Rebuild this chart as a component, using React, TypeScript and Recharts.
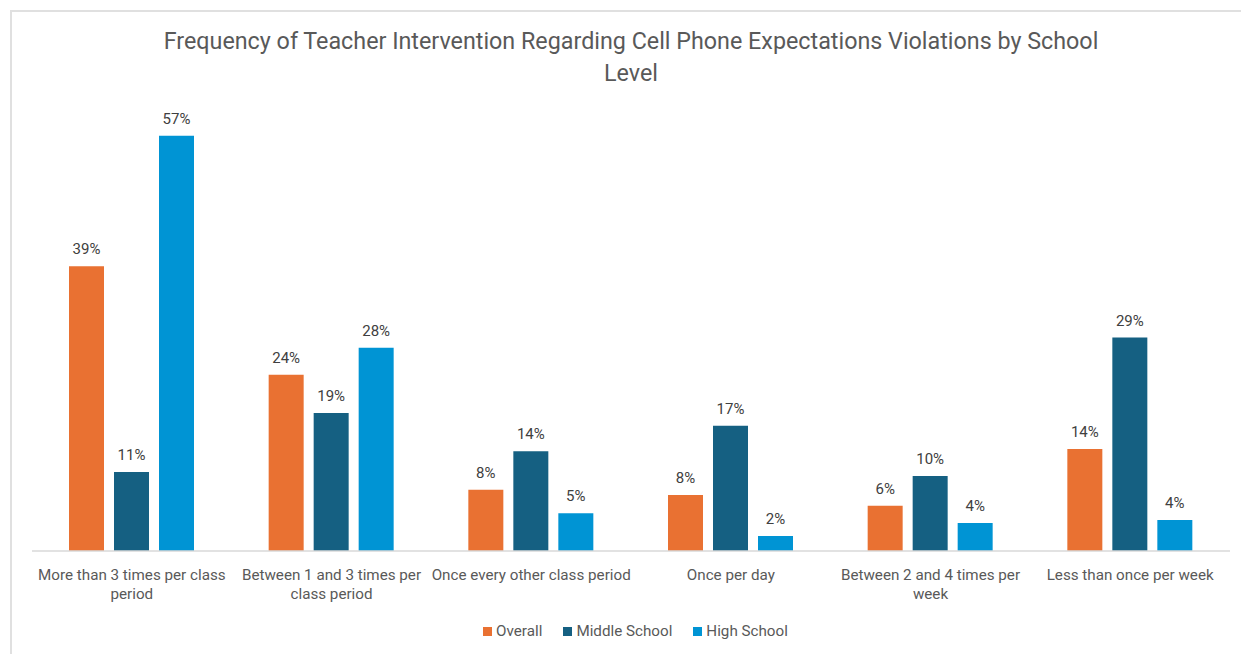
import React from "react";
import { BarChart, Bar, XAxis, YAxis, Legend, LabelList } from "recharts";

const categories = [
  "More than 3 times per class period",
  "Between 1 and 3 times per class period",
  "Once every other class period",
  "Once per day",
  "Between 2 and 4 times per week",
  "Less than once per week",
];
const overall = [39.1, 24.2, 8.4, 7.7, 6.2, 14.0];
const middleSchool = [10.85, 18.96, 13.7, 17.2, 10.3, 29.3];
const highSchool = [57.0, 27.9, 5.2, 2.06, 3.85, 4.26];
const seriesNames = ["Overall", "Middle School", "High School"];
const colors = ["#E97132", "#156082", "#0094D4"];
const titleLines = [
  "Frequency of Teacher Intervention Regarding Cell Phone Expectations Violations by School",
  "Level",
];

const data = categories.map((c, i) => ({
  category: c,
  overall: overall[i],
  middle: middleSchool[i],
  high: highSchool[i],
}));

const FONT = "Roboto, 'Liberation Sans', sans-serif";

function wrapWords(label: string, maxChars: number): string[] {
  const words = label.split(" ");
  const lines: string[] = [];
  let cur = "";
  for (const w of words) {
    const next = cur ? cur + " " + w : w;
    if (next.length > maxChars && cur) {
      lines.push(cur);
      cur = w;
    } else {
      cur = next;
    }
  }
  if (cur) lines.push(cur);
  return lines;
}

const CategoryTick = (props: any) => {
  const { x, y, payload } = props;
  const lines = wrapWords(String(payload.value), 29);
  return (
    <text x={x} y={y} textAnchor="middle" fill="#595959" fontSize={15.2} fontFamily={FONT}>
      {lines.map((l, i) => (
        <tspan key={i} x={x} dy={i === 0 ? 21 : 19}>
          {l}
        </tspan>
      ))}
    </text>
  );
};

const fmt = (v: any) => `${Math.round(Number(v))}%`;

export default function App() {
  return (
    <div
      style={{
        position: "fixed",
        left: 0,
        top: 0,
        width: 1241,
        height: 654,
        background: "#ffffff",
        fontFamily: FONT,
        overflow: "hidden",
      }}
    >
      <div
        style={{
          position: "absolute",
          left: 10,
          top: 10,
          width: 1300,
          height: 700,
          borderLeft: "2px solid #e0e0e0",
          borderTop: "2px solid #e0e0e0",
          boxSizing: "border-box",
        }}
      />
      <div
        style={{
          position: "absolute",
          left: 0,
          top: 25,
          width: 1262,
          textAlign: "center",
          color: "#595959",
          fontSize: 23.3,
          lineHeight: "32px",
        }}
      >
        {titleLines.map((t, i) => (
          <div key={i}>{t}</div>
        ))}
      </div>
      <div style={{ position: "absolute", left: 0, top: 0 }}>
        <BarChart
          width={1241}
          height={654}
          data={data}
          margin={{ top: 114, right: 11, left: 32, bottom: 43 }}
          barSize={35}
          barGap={10}
        >
          <XAxis
            dataKey="category"
            height={60}
            tickLine={false}
            axisLine={{ stroke: "#d9d9d9", strokeWidth: 1.5 }}
            tick={<CategoryTick />}
            interval={0}
          />
          <YAxis hide domain={[0, 60]} />
          <Legend
            layout="horizontal"
            verticalAlign="middle"
            align="center"
            iconType="square"
            iconSize={9}
            itemSorter={(item: any) => seriesNames.indexOf(item.value)}
            wrapperStyle={{ top: 622, left: 47, fontFamily: FONT, fontSize: 15.2 }}
            formatter={(value: any) => (
              <span style={{ color: "#595959", marginRight: 11 }}>{value}</span>
            )}
          />
          {(["overall", "middle", "high"] as const).map((key, i) => (
            <Bar
              key={key}
              dataKey={key}
              name={seriesNames[i]}
              fill={colors[i]}
              isAnimationActive={false}
            >
              <LabelList
                dataKey={key}
                position="top"
                offset={12}
                formatter={fmt}
                fill="#404040"
                fontSize={15}
                fontFamily={FONT}
              />
            </Bar>
          ))}
        </BarChart>
      </div>
    </div>
  );
}
